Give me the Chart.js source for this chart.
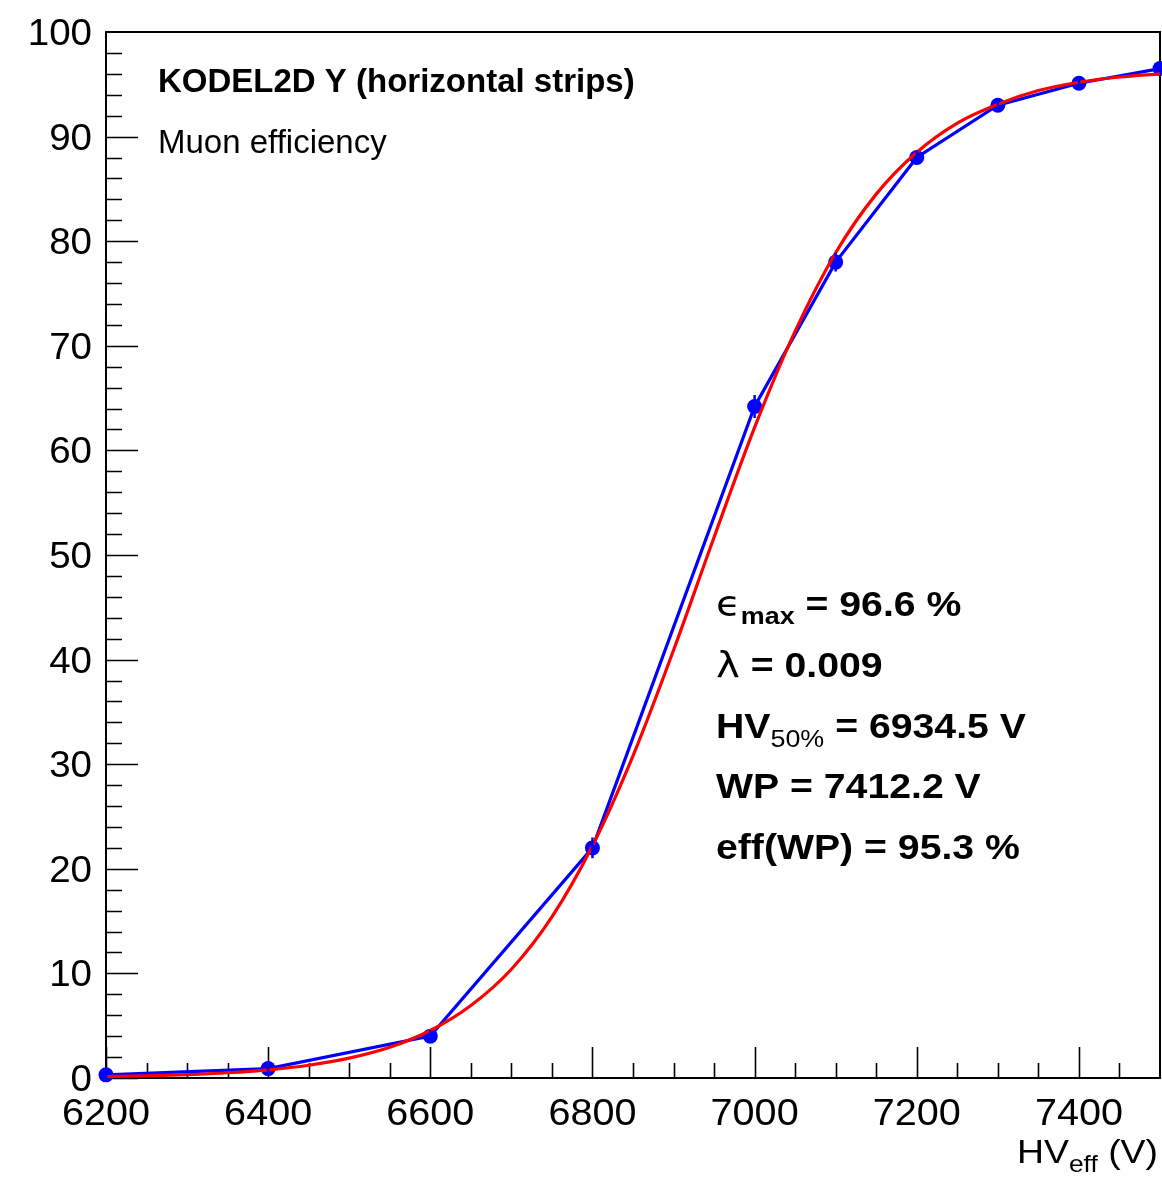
<!DOCTYPE html>
<html>
<head>
<meta charset="utf-8">
<script src="https://cdn.jsdelivr.net/npm/chart.js@4.4.1/dist/chart.umd.min.js"></script>
<style>
  html, body { margin: 0; padding: 0; background: #fff; }
  #wrap { width: 1162px; height: 1182px; position: relative; }
</style>
</head>
<body>
<div id="wrap"><canvas id="eff"></canvas></div>
<script>
// measured points (HV_eff in V, efficiency in %)
const hvPoints = [6200, 6400, 6600, 6800, 7000, 7100, 7200, 7300, 7400, 7500];
const effPoints = [0.3, 0.9, 4.0, 22.0, 64.2, 78.0, 88.0, 93.0, 95.1, 96.5];
const effErrors = [0.3, 0.4, 0.6, 1.0, 1.1, 0.9, 0.7, 0.5, 0.4, 0.3];

// sigmoid fit curve
const hvFit = [6200, 6250, 6300, 6350, 6400, 6450, 6500, 6550, 6600, 6650, 6700, 6750, 6800,
  6850, 6900, 6950, 7000, 7050, 7100, 7150, 7200, 7250, 7300, 7350, 7400, 7450, 7500];
const effFit = [0.13, 0.2, 0.32, 0.5, 0.78, 1.22, 1.9, 2.94, 4.54, 6.93, 10.4, 15.4, 22.2,
  30.8, 40.9, 51.7, 62.2, 71.4, 78.9, 84.5, 88.5, 91.3, 93.1, 94.4, 95.2, 95.7, 96.0];

const xTicks = [6200, 6400, 6600, 6800, 7000, 7200, 7400];
const yTicks = [0, 10, 20, 30, 40, 50, 60, 70, 80, 90, 100];

const FONT = '"Liberation Sans", Arial, Helvetica, sans-serif';

// text drawn a bit wider, like the ROOT canvas
function wideText(ctx, txt, x, y, sx, align) {
  const w = ctx.measureText(txt).width * sx;
  if (align === 'right') x -= w;
  else if (align === 'center') x -= w / 2;
  ctx.save();
  ctx.translate(x, y);
  ctx.scale(sx, 1);
  ctx.fillText(txt, 0, 0);
  ctx.restore();
  return w;
}

// ROOT style frame with inward ticks, error bars and the text boxes
const rootFrame = {
  id: 'rootFrame',
  beforeDatasetsDraw(chart) {
    const ctx = chart.ctx;
    const a = chart.chartArea;
    const xs = chart.scales.x, ys = chart.scales.y;
    ctx.save();
    ctx.strokeStyle = '#000';
    ctx.lineWidth = 2;
    ctx.strokeRect(a.left, a.top, a.right - a.left, a.bottom - a.top);
    ctx.lineWidth = 1.6;
    ctx.beginPath();
    for (let v = xs.min; v < xs.max; v += 50) {
      const px = Math.round(xs.getPixelForValue(v)) + 0.5;
      const len = (v % 200 === 0) ? 31 : 15;
      ctx.moveTo(px, a.bottom);
      ctx.lineTo(px, a.bottom - len);
    }
    for (let v = ys.min; v < ys.max; v += 2) {
      const py = Math.round(ys.getPixelForValue(v)) + 0.5;
      const len = (v % 10 === 0) ? 32 : 16;
      ctx.moveTo(a.left, py);
      ctx.lineTo(a.left + len, py);
    }
    ctx.stroke();

    // tick labels
    ctx.fillStyle = '#000';
    ctx.textAlign = 'left';
    ctx.textBaseline = 'alphabetic';
    ctx.font = '36px ' + FONT;
    xTicks.forEach(v => wideText(ctx, String(v), xs.getPixelForValue(v), a.bottom + 47, 1.1, 'center'));
    yTicks.forEach(v => wideText(ctx, String(v), 92, ys.getPixelForValue(v) + 13, 1.07, 'right'));
    ctx.restore();
  },
  afterDatasetsDraw(chart) {
    const ctx = chart.ctx;
    const xs = chart.scales.x, ys = chart.scales.y;
    ctx.save();
    // error bars
    ctx.strokeStyle = '#0000ff';
    ctx.lineWidth = 2.5;
    ctx.beginPath();
    hvPoints.forEach((hv, i) => {
      const px = xs.getPixelForValue(hv);
      ctx.moveTo(px, ys.getPixelForValue(effPoints[i] - effErrors[i]));
      ctx.lineTo(px, ys.getPixelForValue(effPoints[i] + effErrors[i]));
    });
    ctx.stroke();

    ctx.fillStyle = '#000';
    ctx.textBaseline = 'alphabetic';
    ctx.textAlign = 'left';
    ctx.font = 'bold 33px ' + FONT;
    ctx.fillText('KODEL2D Y (horizontal strips)', 158, 92);
    ctx.font = '33px ' + FONT;
    ctx.fillText('Muon efficiency', 158, 153);

    // fit results, pieces laid out left to right
    const seg = (parts, x, y, sx) => {
      parts.forEach(p => {
        ctx.font = p[1];
        x += wideText(ctx, p[0], x, y + (p[2] || 0), sx);
      });
    };
    const big = 'bold 35px ' + FONT;
    const sub = 'bold 24px ' + FONT;
    const sym = '36px "DejaVu Sans", ' + FONT;
    seg([['\u03F5', sym], ['max', sub, 8], [' = 96.6 %', big]], 716, 616, 1.12);
    seg([['\u03BB', sym], [' = 0.009', big]], 716, 677, 1.12);
    seg([['HV', big], ['50%', '24px ' + FONT, 9], [' = 6934.5 V', big]], 716, 738, 1.12);
    seg([['WP = 7412.2 V', big]], 716, 798, 1.12);
    seg([['eff(WP) = 95.3 %', big]], 716, 859, 1.12);

    // x axis title, right aligned
    const parts = [['HV', '34px ' + FONT, 0], ['eff', '24px ' + FONT, 9], [' (V)', '34px ' + FONT, 0]];
    let w = 0;
    parts.forEach(p => { ctx.font = p[1]; w += ctx.measureText(p[0]).width * 1.1; });
    seg(parts, 1158 - w, 1163, 1.1);
    ctx.restore();
  }
};

new Chart(document.getElementById('eff'), {
  type: 'scatter',
  data: {
    datasets: [
      {
        label: 'fit',
        data: hvFit.map((hv, i) => ({ x: hv, y: effFit[i] })),
        showLine: true,
        borderColor: '#ff0000',
        borderWidth: 3.2,
        pointRadius: 0,
        cubicInterpolationMode: 'monotone',
        clip: false,
        order: 0
      },
      {
        label: 'data',
        data: hvPoints.map((hv, i) => ({ x: hv, y: effPoints[i] })),
        showLine: true,
        borderColor: '#0000ff',
        backgroundColor: '#0000ff',
        borderWidth: 3.2,
        pointRadius: 7.5,
        pointBorderWidth: 0,
        tension: 0,
        clip: false,
        order: 1
      }
    ]
  },
  options: {
    responsive: true,
    maintainAspectRatio: false,
    animation: false,
    layout: { autoPadding: false, padding: { top: 32, right: 2, left: 0, bottom: 0 } },
    plugins: { legend: { display: false }, tooltip: { enabled: false } },
    scales: {
      x: {
        type: 'linear',
        min: 6200,
        max: 7500,
        afterBuildTicks: s => { s.ticks = xTicks.map(v => ({ value: v })); },
        afterFit: s => { s.height = 104; },
        grid: { display: false },
        border: { display: false },
        ticks: { display: false }
      },
      y: {
        type: 'linear',
        min: 0,
        max: 100,
        afterBuildTicks: s => { s.ticks = yTicks.map(v => ({ value: v })); },
        afterFit: s => { s.width = 106; },
        grid: { display: false },
        border: { display: false },
        ticks: { display: false }
      }
    }
  },
  plugins: [rootFrame]
});
</script>
</body>
</html>
